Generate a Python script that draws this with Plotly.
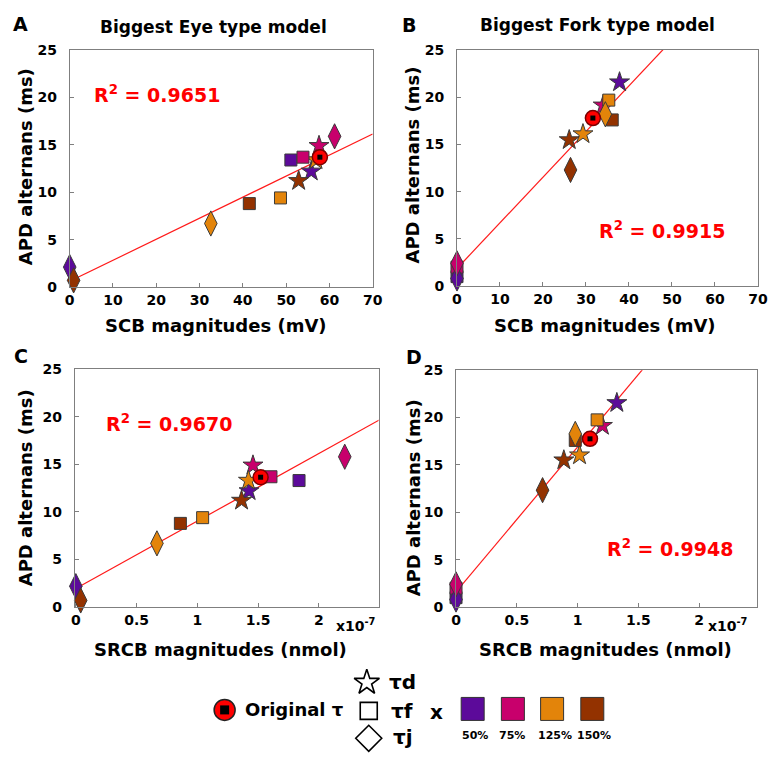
import plotly.graph_objects as go

# ---------------- data ----------------
levels = ["50%", "75%", "125%", "150%"]
level_colors = ["#5c0a9a", "#c8006c", "#e3840a", "#933200"]

# Panel A: Biggest Eye type model, SCB (mV) vs APD alternans (ms)
A_td_x = [55.8, 57.6, 56.9, 52.9]
A_td_y = [12.2, 14.9, 13.4, 11.2]
A_tf_x = [51.1, 53.9, 48.7, 41.5]
A_tf_y = [13.4, 13.7, 9.4, 8.8]
A_tj_x = [0.0, 61.2, 32.6, 0.9]
A_tj_y = [2.1, 15.9, 6.7, 0.7]
A_orig_x = [57.8]
A_orig_y = [13.7]
A_fit = (0.222, 0.6)  # slope, intercept
A_r2 = "0.9651"

# Panel B: Biggest Fork type model, SCB (mV)
B_td_x = [37.8, 34.0, 29.3, 26.1]
B_td_y = [21.6, 19.15, 16.1, 15.47]
B_tf_x = [0.0, 0.0, 35.3, 36.1]
B_tf_y = [1.0, 2.0, 19.7, 17.6]
B_tj_x = [0.0, 0.0, 34.5, 26.4]
B_tj_y = [0.8, 2.4, 18.2, 12.3]
B_orig_x = [31.6]
B_orig_y = [17.8]
B_fit = (0.484, 1.86)
B_r2 = "0.9915"

# Panel C: Eye model, SRCB (x1e-7 nmol)
C_td_x = [1.425, 1.457, 1.42, 1.363]
C_td_y = [12.2, 14.9, 13.3, 11.2]
C_tf_x = [1.836, 1.605, 1.043, 0.86]
C_tf_y = [13.3, 13.7, 9.4, 8.8]
C_tj_x = [0.0, 2.212, 0.667, 0.04]
C_tj_y = [2.2, 15.8, 6.7, 0.7]
C_orig_x = [1.52]
C_orig_y = [13.65]
C_fit = (7.1, 1.95)
C_r2 = "0.9670"

# Panel D: Fork model, SRCB (x1e-7 nmol)
D_td_x = [1.323, 1.204, 1.016, 0.887]
D_td_y = [21.55, 19.14, 16.03, 15.5]
D_tf_x = [0.0, 0.0, 1.161, 0.981]
D_tf_y = [1.0, 2.0, 19.76, 17.59]
D_tj_x = [0.0, 0.0, 0.981, 0.712]
D_tj_y = [0.8, 2.4, 18.28, 12.34]
D_orig_x = [1.102]
D_orig_y = [17.76]
D_fit = (15.3, 1.6)
D_r2 = "0.9948"

scb_ticks = [0, 10, 20, 30, 40, 50, 60, 70]
srcb_ticks = [0, 0.5, 1, 1.5, 2]
srcb_ticktext = ["0", "0.5", "1", "1.5", "2"]
y_ticks = [0, 5, 10, 15, 20, 25]

# ---------------- layout helpers ----------------
W, H = 768, 760
FONT = "DejaVu Sans"
NBSP = "\u00a0"


def px(x):
    return x / W


def py(y):
    return 1 - y / H


def bold(labels, pad=""):
    return ["<b>%s</b>%s" % (l, pad) for l in labels]


fig = go.Figure()

panels = [
    dict(ax="", td=(A_td_x, A_td_y), tf=(A_tf_x, A_tf_y), tj=(A_tj_x, A_tj_y),
         orig=(A_orig_x, A_orig_y), fit=A_fit, xmax=70),
    dict(ax="2", td=(B_td_x, B_td_y), tf=(B_tf_x, B_tf_y), tj=(B_tj_x, B_tj_y),
         orig=(B_orig_x, B_orig_y), fit=B_fit, xmax=70),
    dict(ax="3", td=(C_td_x, C_td_y), tf=(C_tf_x, C_tf_y), tj=(C_tj_x, C_tj_y),
         orig=(C_orig_x, C_orig_y), fit=C_fit, xmax=2.5),
    dict(ax="4", td=(D_td_x, D_td_y), tf=(D_tf_x, D_tf_y), tj=(D_tj_x, D_tj_y),
         orig=(D_orig_x, D_orig_y), fit=D_fit, xmax=2.5),
]

for p in panels:
    xa, ya = "x" + p["ax"], "y" + p["ax"]
    s, b = p["fit"]
    fx = [0, p["xmax"]]
    fig.add_trace(go.Scatter(x=fx, y=[b + s * v for v in fx], mode="lines",
                             line=dict(color="#ff1a1a", width=1.2),
                             xaxis=xa, yaxis=ya, showlegend=False, hoverinfo="skip"))
    for key, sym, size in [("td", "star", 15), ("tf", "square", 12), ("tj", "diamond-tall", 18)]:
        xs, ys = p[key]
        fig.add_trace(go.Scatter(x=xs, y=ys, mode="markers",
                                 marker=dict(symbol=sym, size=size, color=level_colors,
                                             line=dict(color="#3a3a3a", width=1)),
                                 xaxis=xa, yaxis=ya, showlegend=False, cliponaxis=False))
    ox, oy = p["orig"]
    fig.add_trace(go.Scatter(x=ox, y=oy, mode="markers",
                             marker=dict(symbol="circle", size=15, color="#ff0000",
                                         line=dict(color="#7a0000", width=1.5)),
                             xaxis=xa, yaxis=ya, showlegend=False, cliponaxis=False))
    fig.add_trace(go.Scatter(x=ox, y=oy, mode="markers",
                             marker=dict(symbol="square", size=5, color="black"),
                             xaxis=xa, yaxis=ya, showlegend=False, cliponaxis=False))

axis_common = dict(showgrid=False, zeroline=False, showline=True, linecolor="#7f7f7f",
                   linewidth=1, mirror=True, ticks="inside", ticklen=4,
                   tickcolor="#7f7f7f",
                   tickfont=dict(family=FONT, size=14, color="black"))
yax_extra = dict(tickvals=y_ticks, ticktext=bold([str(v) for v in y_ticks], NBSP * 2),
                 range=[0, 25])

lay = {}
# A
lay["xaxis"] = dict(domain=[px(66), px(375)], range=[0, 70], tickvals=scb_ticks,
                    ticktext=bold([str(v) for v in scb_ticks]), anchor="y", **axis_common)
lay["yaxis"] = dict(domain=[py(285), py(43)], anchor="x", **yax_extra, **axis_common)
# B
lay["xaxis2"] = dict(domain=[px(461), 1.0], range=[0, 70], tickvals=scb_ticks,
                     ticktext=bold([str(v) for v in scb_ticks]), anchor="y2", **axis_common)
lay["yaxis2"] = dict(domain=[py(284), py(43)], anchor="x2", **yax_extra, **axis_common)
# C
lay["xaxis3"] = dict(domain=[px(71), px(381)], range=[-0.01, 2.49], tickvals=srcb_ticks,
                     ticktext=bold(srcb_ticktext), anchor="y3", **axis_common)
lay["yaxis3"] = dict(domain=[py(612), py(369)], anchor="x3", **yax_extra, **axis_common)
# D
lay["xaxis4"] = dict(domain=[px(460), px(767)], range=[0, 2.476], tickvals=srcb_ticks,
                     ticktext=bold(srcb_ticktext), anchor="y4", **axis_common)
lay["yaxis4"] = dict(domain=[py(612), py(370)], anchor="x4", **yax_extra, **axis_common)
# overlay axes (pixel units, y measured from bottom) for the key
lay["xaxis5"] = dict(domain=[0, 1], range=[0, W], visible=False, anchor="y5",
                     showgrid=False, zeroline=False)
lay["yaxis5"] = dict(domain=[0, 1], range=[0, H], visible=False, anchor="x5",
                     showgrid=False, zeroline=False)

fig.update_layout(**lay)

# ---------------- key ----------------
leg = dict(xaxis="x5", yaxis="y5", showlegend=False, hoverinfo="skip", cliponaxis=False)
fig.add_trace(go.Scatter(x=[224], y=[H - 717], mode="markers",
                         marker=dict(symbol="circle", size=21, color="#ff0000",
                                     line=dict(color="#222222", width=1.5)), **leg))
fig.add_trace(go.Scatter(x=[224], y=[H - 717], mode="markers",
                         marker=dict(symbol="square", size=9, color="black"), **leg))
for sx, sy, sym, ss in [(369, 689, "star-open", 19), (371, 718, "square-open", 17),
                        (371, 746, "diamond-open", 20)]:
    fig.add_trace(go.Scatter(x=[sx], y=[H - sy], mode="markers",
                             marker=dict(symbol=sym, size=ss, color="black",
                                         line=dict(color="black", width=1.6)), **leg))
sw_x = [477, 518, 558, 599]
fig.add_trace(go.Scatter(x=sw_x, y=[H - 716] * 4, mode="markers",
                         marker=dict(symbol="square", size=23, color=level_colors,
                                     line=dict(color="#333333", width=1)), **leg))

ann = []


def text(x, y, t, size, color="black", xanchor="center", angle=0, family=FONT):
    ann.append(dict(x=px(x), y=py(y), xref="paper", yref="paper", text=t, showarrow=False,
                    xanchor=xanchor, yanchor="middle", textangle=angle,
                    font=dict(family=family, size=size, color=color, weight="bold")))


text(243, 717, "Original τ", 18, xanchor="left")
text(390, 689, "τd", 20, xanchor="left")
text(392, 718, "τf", 20, xanchor="left")
text(394, 745, "τj", 20, xanchor="left")
text(440, 719, "x", 20)
for xx, lab in zip([479, 517, 561, 601], levels):
    text(xx, 743, lab, 11)

# titles & panel letters
text(213, 19, "Biggest Eye type model", 17)
text(604, 17, "Biggest Fork type model", 17)
text(16, 16, "A", 19)
text(412, 17, "B", 19)
text(16, 355, "C", 19)
text(417, 356, "D", 19)

# axis titles
text(215, 324, "SCB magnitudes (mV)", 18)
text(612, 324, "SCB magnitudes (mV)", 18)
text(220, 655, "SRCB magnitudes (nmol)", 18)
text(612, 655, "SRCB magnitudes (nmol)", 18)
text(21, 162, "APD alternans (ms)", 18, angle=-90)
text(416, 160, "APD alternans (ms)", 18, angle=-90)
text(21, 490, "APD alternans (ms)", 18, angle=-90)
text(417, 500, "APD alternans (ms)", 18, angle=-90)

# exponent labels
text(358, 630, "x10<sup>-7</sup>", 14)
text(737, 630, "x10<sup>-7</sup>", 14)

# R^2 labels
for (xx, yy, r) in [(155, 88, A_r2), (670, 227, B_r2), (167, 424, C_r2), (678, 552, D_r2)]:
    text(xx, yy, "R<sup>2</sup> = " + r, 19, color="#ff0000")

# transparent plot backgrounds so the full-page key layer does not hide the panels
fig.update_layout(annotations=ann, width=W, height=H, margin=dict(l=0, r=0, t=0, b=0),
                  plot_bgcolor="rgba(0,0,0,0)", paper_bgcolor="white", showlegend=False)

fig.write_html("out.html")
